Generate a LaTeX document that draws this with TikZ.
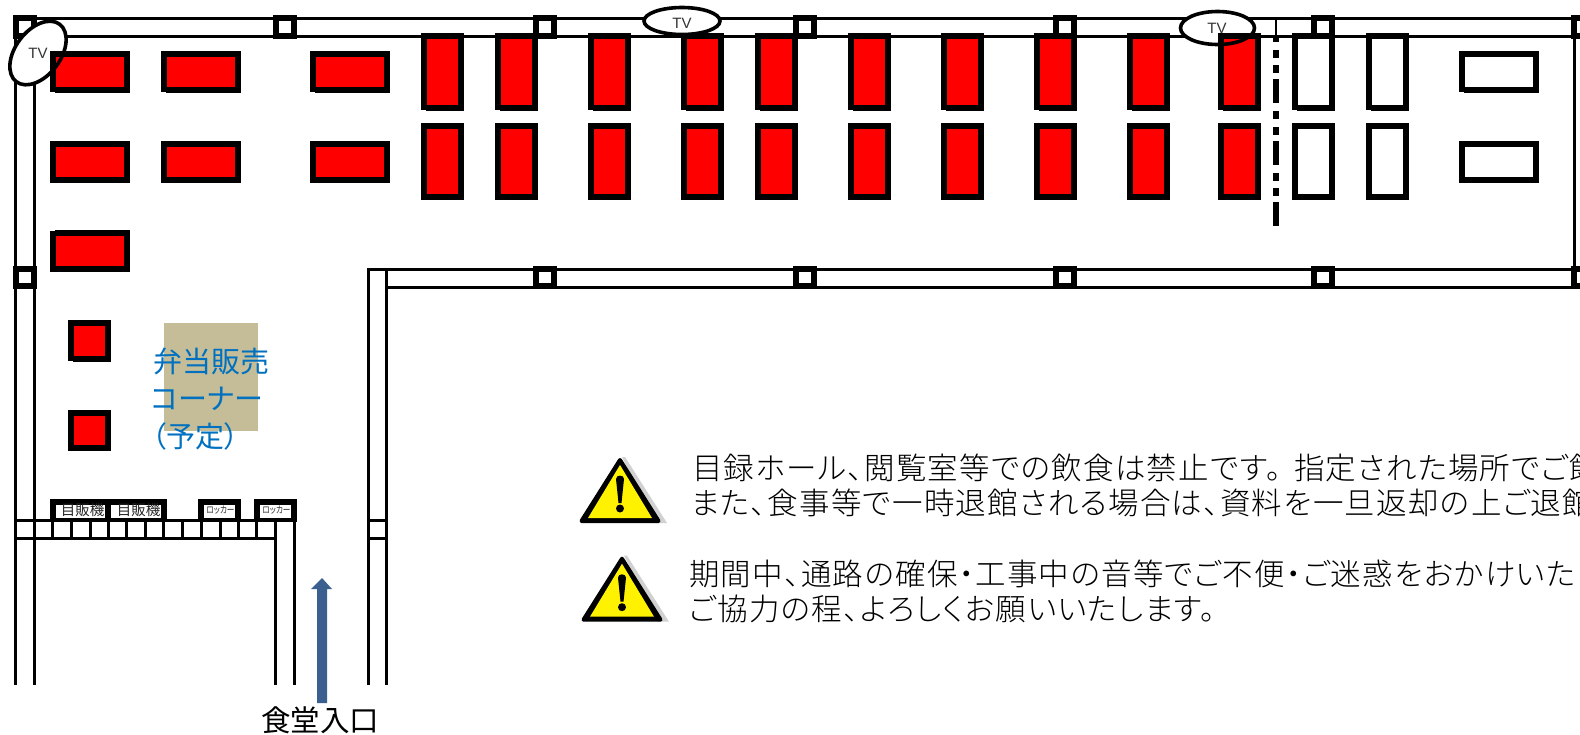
\documentclass[tikz,border=0pt]{standalone}
\usepackage{graphicx}
\usepackage{fontspec}
\setmainfont{Liberation Sans}
\newfontfamily\jp[RawFeature=+palt]{Noto Sans CJK JP}
\newfontfamily\jpn[RawFeature=+palt,LetterSpace=4.2]{Noto Sans CJK JP Light}
\definecolor{tblred}{RGB}{255,0,0}
\definecolor{tan}{RGB}{196,189,151}
\definecolor{blu}{RGB}{0,112,192}
\definecolor{arrowblue}{RGB}{59,96,143}
\tikzset{
 wall/.style={line width=3pt,line cap=butt},
 pillar/.style={draw=black,fill=white,line width=6pt,miter limit=10},
 tablered/.style={draw=black,fill=tblred,line width=6pt},
 tablewhite/.style={draw=black,fill=white,line width=6pt},
 tvring/.style={draw=black,line width=3.6pt},
 tvtext/.style={text=black!80,font=\fontsize{15}{15}\selectfont,inner sep=0pt},
 notice/.style={anchor=base west,inner sep=0pt,text=black,font=\jpn\fontsize{30.5}{30.5}\selectfont},
 bluetext/.style={anchor=base west,inner sep=0pt,text=blu,font=\jp\fontsize{29}{29}\selectfont},
 vend/.style={inner sep=0pt,text=black!85,font=\jp\fontsize{14.5}{14.5}\selectfont},
 locker/.style={inner sep=0pt,text=black!85,font=\jp\fontsize{9.5}{9.5}\selectfont},
}
\begin{document}
\begin{tikzpicture}[x=1pt,y=-1pt]
\useasboundingbox (0,0) rectangle (1580,734);
\fill[white] (0,0) rectangle (1580,734);
% walls
\draw[wall] (15.5,18.5) -- (1580,18.5);
\draw[wall] (15.5,36.5) -- (1580,36.5);
\draw[wall] (15.5,17) -- (15.5,685);
\draw[wall] (34.5,36.5) -- (34.5,685);
\draw[wall] (1574,36.5) -- (1574,269.5);
\draw[wall] (367,269.5) -- (1580,269.5);
\draw[wall] (386.5,287.5) -- (1580,287.5);
\draw[wall] (368.5,269.5) -- (368.5,685);
\draw[wall] (386.5,269.5) -- (386.5,685);
\draw[wall] (368.5,520.5) -- (386.5,520.5);
\draw[wall] (368.5,538.5) -- (386.5,538.5);
\draw[wall] (15.5,520.5) -- (296,520.5);
\draw[wall] (15.5,538.5) -- (277,538.5);
\draw[wall] (275.5,538.5) -- (275.5,685);
\draw[wall] (294.5,520.5) -- (294.5,685);
\foreach \x in {52.5,71.5,90.5,108.5,126.5,145.5,163.5,182.5,201.5,220.5,238.5,256.5,275.5}
  \draw[wall] (\x,520.5) -- (\x,538.5);
% pillars
\foreach \x in {25,284.5,544.5,804.5,1064.5,1322.5,1582.5}
  \draw[pillar] (\x-9,18) rectangle (\x+9,36);
\foreach \x in {25,544.5,804.5,1064.5,1322.5,1582.5}
  \draw[pillar] (\x-9,269) rectangle (\x+9,286);
% white interior of the TV ellipses
\fill[white,rotate around={53:(38,53)}] (38,53) ellipse [x radius=36,y radius=22.5];
\fill[white] (682,21) ellipse [x radius=38,y radius=13.5];
\fill[white] (1217.5,28) ellipse [x radius=37,y radius=16.5];
% dash-dot line
\draw[line width=2.4pt] (1276,20) -- (1276,37);
\draw[line width=6pt,dash pattern=on 24pt off 6pt on 8pt off 7.5pt on 8pt off 8pt] (1276,226) -- (1276,36);
% landscape tables
\foreach \x/\y in {53/54,164/54,313/54,53/144,164/144,313/144,53/233}
  \draw[tablered] (\x,\y) rectangle (\x+74,\y+35.7);
\foreach \y in {54,144}
  \draw[tablewhite] (1462,\y) rectangle (1536,\y+35.7);
% portrait tables
\foreach \x in {421,495,588,681,755,848,941,1034,1127,1218}{
  \draw[tablered] (\x+3,36) rectangle (\x+40,107.7);
  \draw[tablered] (\x+3,126) rectangle (\x+40,197);
  \fill[white] (\x-.5,109.7) rectangle (\x+5,111.5);
}
\foreach \x in {1292,1366}{
  \draw[tablewhite] (\x+3,36) rectangle (\x+40,107.7);
  \draw[tablewhite] (\x+3,126) rectangle (\x+40,197);
  \fill[white] (\x-.5,109.7) rectangle (\x+5,111.5);
}
% one-pixel steps on the table corners
\foreach \x in {50,161,310}
  \fill[white] (\x-.5,91.7) rectangle (\x+5,93.5);
\fill[white] (1458.5,91.7) rectangle (1464,93.5);
\fill[white] (49.5,229) rectangle (55,231);
% square tables
\draw[tablered] (71,323) rectangle (108,359);
\draw[tablered] (71,413) rectangle (108,448);
\fill[white] (67.5,361) rectangle (73,362.8);
% TV outlines
\draw[tvring,rotate around={53:(38,53)}] (38,53) ellipse [x radius=36,y radius=22.5];
\draw[tvring] (682,21) ellipse [x radius=38,y radius=13.5];
\draw[tvring] (1217.5,28) ellipse [x radius=37,y radius=16.5];
\node[tvtext] (tva) at (38,53) {TV};
\node[tvtext] (tvb) at (682,23) {TV};
\node[tvtext] (tvc) at (1217,28.5) {TV};
% bento corner
\fill[tan] (164,323) rectangle (258,431);
\node[bluetext] (benA) at (153,372) {弁当販売};
\node[bluetext] (benB) at (151,409) {コーナー};
\node[bluetext] (benC) at (152,447.5) {（予定）};
% vending machines and lockers
\fill[black] (50,499) rectangle (167,522);
\fill[white] (56,505) rectangle (105,518);
\fill[white] (110.7,505) rectangle (161,518);
\node[vend] (vmA) at (82.5,510.5) {目販機};
\node[vend] (vmB) at (138.5,510.5) {目販機};
\fill[black] (198,499) rectangle (240.7,522);
\fill[white] (204,505) rectangle (234.7,518);
\node[locker] (lkA) at (220.5,510.5) {\scalebox{.8}[1]{ロッカー}};
\fill[black] (254,499) rectangle (296.7,522);
\fill[white] (260,505) rectangle (290.7,518);
\node[locker] (lkB) at (276.5,510.5) {\scalebox{.8}[1]{ロッカー}};
% entrance arrow
\coordinate (arrowTail) at (322,703);
\coordinate (arrowTip) at (322,578);
\fill[arrowblue] (317,703) -- (317,589) -- (311,589) -- (arrowTip) -- (332,589) -- (327,589) -- (327,703) -- cycle;
\node[inner sep=0pt,text=black,font=\jp\fontsize{29.5}{29.5}\selectfont] (entr) at (320,720.5) {食堂入口};
% warning signs
\foreach \dx/\dy in {0/0,2/98.7}{
 \begin{scope}[shift={(\dx,\dy)}]
  \fill[black!18] (622,457) -- (625,457) -- (667,523) -- (655,523) -- cycle;
  \filldraw[black,line width=4pt,line join=round] (620,460) -- (581.5,521) -- (658.5,521) -- cycle;
  \fill[yellow] (620,465) -- (588,518) -- (652,518) -- cycle;
  \fill[black] (616,479) .. controls (616,474.5) and (624,474.5) .. (624,479) -- (621.5,503) -- (618.5,503) -- cycle;
  \fill[black] (620,508.5) circle (4);
 \end{scope}
}
% notice text
\node[notice] (noteA) at (692,479) {目録ホール、閲覧室等での飲食は禁止です。\hspace{13pt}指定された場所でご飲};
\node[notice] (noteB) at (691,514) {また、食事等で一時退館される場合は、資料を一旦返却の上ご退館};
\node[notice] (noteC) at (689,585) {期間中、通路の確保・工事中の音等でご不便・ご迷惑をおかけいた};
\node[notice] (noteD) at (689,620) {ご協力の程、よろしくお願いいたします。};
\end{tikzpicture}
\end{document}
